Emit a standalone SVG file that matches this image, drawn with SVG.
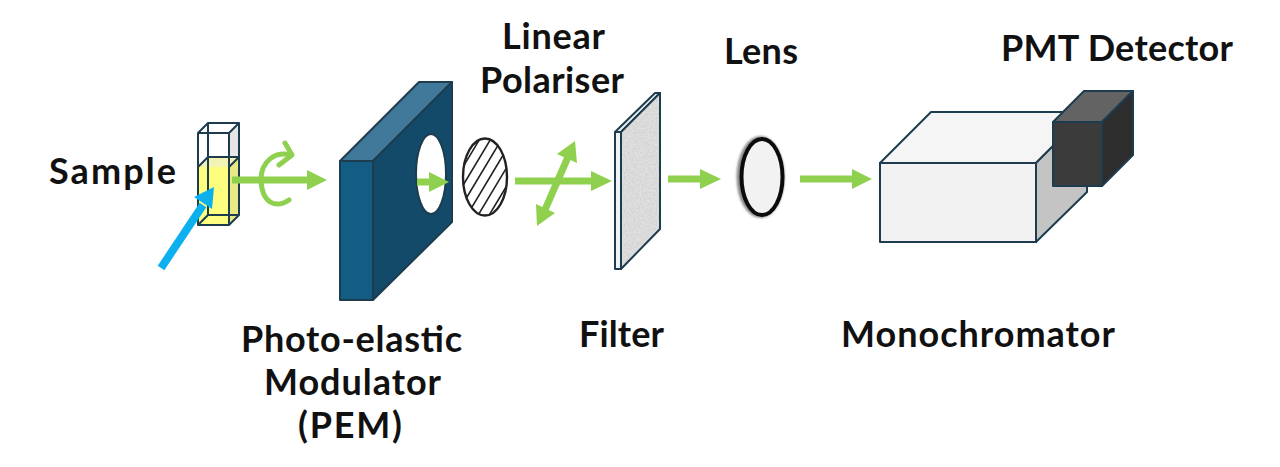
<svg xmlns="http://www.w3.org/2000/svg" width="1280" height="467" viewBox="0 0 1280 467">
<style>
text{font-family:"Lato","Liberation Sans",sans-serif;font-size:36px;font-weight:700;fill:#111}
.e{stroke:#1d3d4f;stroke-width:2;stroke-linejoin:round}
.g{fill:none;stroke:#8fd14f;stroke-width:7}
.c{fill:none;stroke:#8fd14f;stroke-width:5;stroke-linecap:round;stroke-linejoin:round}
.gh{fill:#8fd14f}
</style>
<defs>
<clipPath id="pc"><ellipse cx="485" cy="177" rx="22" ry="38"/></clipPath>
<filter id="noise" x="0" y="0" width="1" height="1"><feTurbulence type="fractalNoise" baseFrequency="0.5" numOctaves="3" seed="4" result="n"/><feColorMatrix in="n" type="matrix" values="0 0 0 0 0.6  0 0 0 0 0.6  0 0 0 0 0.6  1 1 0 0 -0.65" result="c"/><feComposite in="c" in2="SourceGraphic" operator="in" result="d"/><feMerge><feMergeNode in="SourceGraphic"/><feMergeNode in="d"/></feMerge></filter>
<filter id="soft" x="-10%" y="-10%" width="120%" height="120%"><feGaussianBlur stdDeviation="1"/></filter>
</defs>
<g id="sample">
<polygon points="229,133 239,123 239,157 229,167" fill="#e6e6e6"/>
<polygon points="198,167 208,157 239,157 229,167" fill="#f3f3b4"/>
<polygon points="229,167 239,157 239,215 229,225" fill="#e8e884"/>
<rect x="198" y="167" width="31" height="58" fill="#fdfd80"/>
<g fill="none" class="e"><path d="M198 133H229V225H198ZM198 133L208 123H239L229 133M239 123V215L229 225M208 123V215L198 225M208 215H239M198 167L208 157H239L229 167"/></g>
<text x="49" y="184" textLength="127">Sample</text>
</g>
<g id="pem">
<polygon class="e" points="340,161 419,82 452,82 373,161" fill="#41799a"/>
<path class="e" fill-rule="evenodd" d="M373 161L452 82V222L373 300ZM416 174a15 40 0 1 0 30 0a15 40 0 1 0 -30 0Z" fill="#134a69"/>
<rect class="e" x="340" y="161" width="33" height="139" fill="#135d84"/>
<text x="241" y="352" textLength="221">Photo-elastic</text>
<text x="264" y="395" textLength="177">Modulator</text>
<text x="298" y="438" textLength="104">(PEM)</text>
</g>
<g id="polariser">
<g clip-path="url(#pc)" fill="none" stroke="#222" stroke-width="1.6"><path d="M427 227L487 127M438 227L498 127M449 227L509 127M460 227L520 127M471 227L531 127M482 227L542 127"/></g>
<ellipse cx="485" cy="177" rx="22" ry="38.5" fill="none" stroke="#222" stroke-width="2.4"/>
<text x="502" y="49" textLength="103">Linear</text>
<text x="480" y="93" textLength="144">Polariser</text>
</g>
<g id="filter-node">
<polygon class="e" points="615,132 655,93 660,93 621,132" fill="#eef3f5"/>
<rect class="e" x="615" y="132" width="6" height="137" fill="#eef3f5"/>
<polygon points="621,132 660,93 660,229 621,269" fill="#e2e2e2" filter="url(#noise)"/>
<polygon class="e" points="621,132 660,93 660,229 621,269" fill="none"/>
<text x="579" y="347" textLength="85">Filter</text>
</g>
<g id="lens">
<ellipse cx="760.500" cy="177" rx="24" ry="41" fill="#8a8a8a" filter="url(#soft)"/>
<ellipse cx="762" cy="177" rx="20.500" ry="38" fill="#f2f2f2" stroke="#0c0c0c" stroke-width="4"/>
<text x="724" y="64" textLength="74">Lens</text>
</g>
<g id="monochromator">
<polygon class="e" points="880,163 931,112 1087,112 1036,163" fill="#f5f5f5"/>
<polygon class="e" points="1036,163 1087,112 1087,192 1036,242" fill="#c4c4c4"/>
<rect class="e" x="880" y="163" width="156" height="79" fill="#f2f2f2"/>
<text x="841" y="347" textLength="274">Monochromator</text>
</g>
<g id="detector">
<polygon class="e" points="1053,122 1084,91 1133,91 1102,122" fill="#636363"/>
<polygon class="e" points="1102,122 1133,91 1133,155 1102,186" fill="#2d2d2d"/>
<rect class="e" x="1053" y="122" width="49" height="64" fill="#3b3b3b"/>
<text x="1001" y="61" textLength="232">PMT Detector</text>
</g>
<g id="connectors">
<path d="M161 268L203 205" fill="none" stroke="#0db0ee" stroke-width="8"/>
<polygon points="214,187 212,209 194,197" fill="#0db0ee"/>
<path class="g" d="M232 180H308"/><polygon class="gh" points="327,180 307,170 307,190"/>
<path class="c" d="M289 200C277 208 262 205 261 180C261 161 275 151 291 155"/>
<path class="c" d="M285 143L292 155L279 165"/>
<path class="g" d="M417 182H432"/><polygon class="gh" points="449,182 429,172 429,192"/>
<path class="g" d="M515 181H593"/><polygon class="gh" points="612,181 591,171 591,191"/>
<path class="g" d="M544 212L568 157"/><polygon class="gh" points="575,141 577,163 557,154"/><polygon class="gh" points="537,226 555,213 536,204"/>
<path class="g" d="M668 179H701"/><polygon class="gh" points="721,179 700,169 700,189"/>
<path class="g" d="M800 179H853"/><polygon class="gh" points="872,179 852,169 852,189"/>
</g>
</svg>
